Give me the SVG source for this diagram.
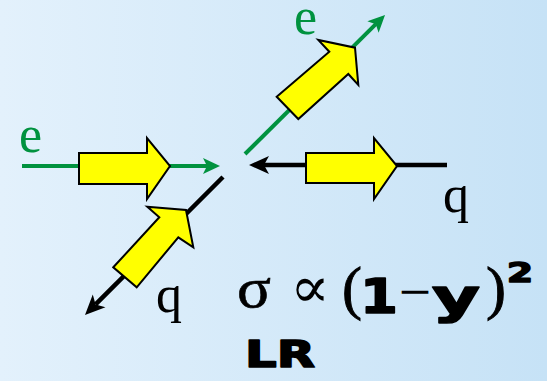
<svg xmlns="http://www.w3.org/2000/svg" width="547" height="381" viewBox="0 0 547 381">
  <defs>
    <linearGradient id="bg" x1="0" y1="0" x2="1" y2="0">
      <stop offset="0" stop-color="#e3f1fc"/>
      <stop offset="1" stop-color="#c6e2f6"/>
    </linearGradient>
    <marker id="headGreen" viewBox="-5 -9 19 18" refX="0" refY="0" markerWidth="19" markerHeight="18" markerUnits="userSpaceOnUse" orient="auto">
      <path d="M13,0 L-4,-8 L0,0 L-4,8 Z" fill="#00923f"/>
    </marker>
    <marker id="headBlack" viewBox="-6 -10 22 20" refX="0" refY="0" markerWidth="22" markerHeight="20" markerUnits="userSpaceOnUse" orient="auto">
      <path d="M15,0 L-5,-9 L0,0 L-5,9 Z" fill="#000"/>
    </marker>
  </defs>
  <style>
    .green { stroke: #00923f; stroke-width: 4; fill: none; }
    .black { stroke: #000; stroke-width: 4.5; fill: none; }
    .spin { fill: #ffff00; stroke: #000; stroke-width: 2; stroke-linejoin: miter; }
    .serif { font-family: "Liberation Serif", "Times New Roman", serif; font-size: 52px; }
    .gtxt { fill: #00923f; }
    .ktxt { fill: #000; }
    .heavy { font-family: "DejaVu Sans", "Liberation Sans", sans-serif; font-weight: bold; fill: #000; stroke: #000; stroke-width: 1.6; stroke-linejoin: round; }
  </style>

  <rect x="0" y="0" width="547" height="381" fill="url(#bg)"/>

  <g id="connectors">
    <line id="e-in" class="green" x1="22" y1="166" x2="207" y2="166" marker-end="url(#headGreen)"/>
    <line id="q-in" class="black" x1="447" y1="165" x2="264" y2="165" marker-end="url(#headBlack)"/>
    <line id="e-out" class="green" x1="245" y1="154" x2="375.8" y2="24.2" marker-end="url(#headGreen)"/>
    <line id="q-out" class="black" x1="223" y1="177" x2="95.6" y2="304.4" marker-end="url(#headBlack)"/>
  </g>

  <g id="spin-e-in">
    <polygon class="spin" points="79,153 147,153 147,138 170,166 147,199 147,184 79,184"/>
  </g>
  <g id="spin-q-in">
    <polygon class="spin" points="306,153 374,153 374,138 397,166 374,199 374,183 306,183"/>
  </g>
  <g id="spin-e-out">
    <polygon class="spin" points="276.7,96.7 329.3,51.7 318.3,40 355,47.7 358.3,85 348.3,74 298.3,119"/>
  </g>
  <g id="spin-q-out">
    <polygon class="spin" points="113.3,267.3 159.3,217.3 147.3,206.7 186,210 193.3,247.3 178.3,237.3 136.7,287.3"/>
  </g>

  <g id="label-e-in"><text class="serif gtxt" x="19" y="152">e</text></g>
  <g id="label-e-out"><text class="serif gtxt" x="294" y="34" font-size="51">e</text></g>
  <g id="label-q-in"><text class="serif ktxt" x="443" y="212">q</text></g>
  <g id="label-q-out"><text class="serif ktxt" x="156" y="312">q</text></g>

  <g id="formula">
    <text x="237" y="307" font-family="Liberation Serif, DejaVu Serif, serif" font-size="57" fill="#000" stroke="#000" stroke-width="0.6" textLength="34" lengthAdjust="spacingAndGlyphs">σ</text>
    <text x="290" y="307" font-family="DejaVu Serif, DejaVu Sans, serif" font-size="58" fill="#000" textLength="40" lengthAdjust="spacingAndGlyphs">∝</text>
    <text x="342" y="308" font-family="Liberation Serif, serif" font-size="60" fill="#000" stroke="#000" stroke-width="0.9">(</text>
    <text class="heavy" x="360" y="313" font-size="48" textLength="38" lengthAdjust="spacingAndGlyphs">1</text>
    <text x="399" y="306" font-family="Liberation Sans, Arial, sans-serif" font-size="42" fill="#000" textLength="32" lengthAdjust="spacingAndGlyphs">−</text>
    <text class="heavy" x="432" y="313" font-size="48" textLength="48" lengthAdjust="spacingAndGlyphs">y</text>
    <text x="486" y="308" font-family="Liberation Serif, serif" font-size="60" fill="#000" stroke="#000" stroke-width="0.9">)</text>
    <text class="heavy" x="507" y="282" font-size="26" textLength="26" lengthAdjust="spacingAndGlyphs">2</text>
  </g>
  <g id="label-LR">
    <text class="heavy" x="245" y="367" font-size="37" textLength="70" lengthAdjust="spacingAndGlyphs">LR</text>
  </g>
</svg>
